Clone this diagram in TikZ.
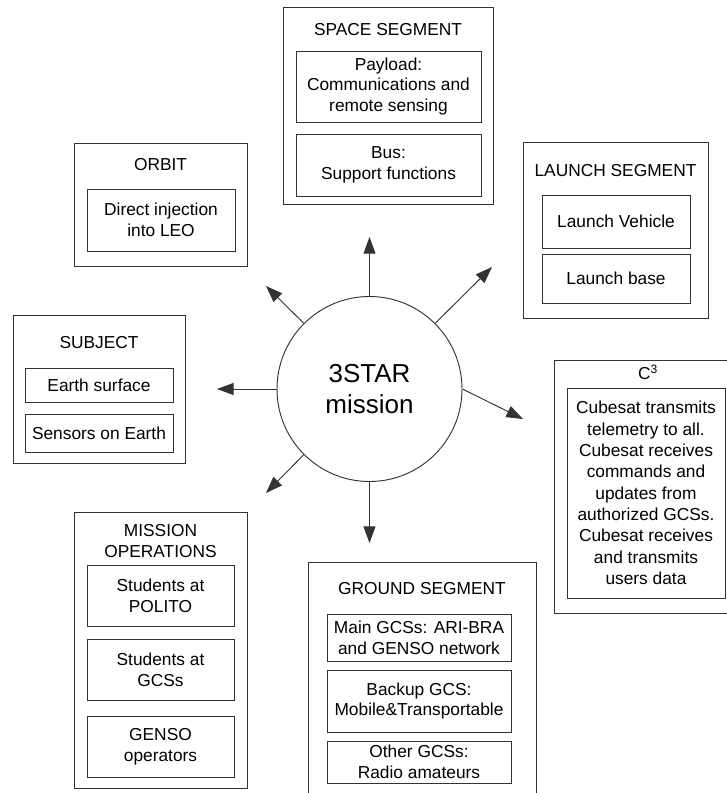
\documentclass[tikz,border=0pt]{standalone}
\usepackage{fontspec}
\setmainfont{Liberation Sans}
\usetikzlibrary{fit,arrows.meta}
\definecolor{linec}{gray}{0.2}
\begin{document}
\begin{tikzpicture}[x=0.75pt,y=-0.75pt,
  outerbox/.style={draw=linec, line width=0.7pt, inner sep=0pt},
  innerbox/.style={draw=linec, line width=0.7pt, inner sep=0pt, align=center,
    font=\fontsize{13}{15.5}\selectfont},
  ttl/.style={inner sep=0pt, align=center, font=\fontsize{13}{15.5}\selectfont},
  arr/.style={draw=linec, line width=0.7pt, -{Triangle[length=12.5pt,width=9pt]}},
]
\useasboundingbox (0,0) rectangle (727,793);
\fill[white] (0,0) rectangle (727,793);

% centre
\node[circle, draw=linec, line width=0.7pt, minimum size=138.75pt, inner sep=0pt,
  align=center, font=\fontsize{19.5}{23.25}\selectfont] (mission) at (369.5,389) {3STAR\\mission};

% space segment
\node[outerbox, fit={(283,7)(493,204)}] (space) {};
\node[ttl] (spaceT) at (388,30) {SPACE SEGMENT};
\node[innerbox, minimum width=138.75pt, minimum height=53.25pt] (payload) at (388.5,86.5) {Payload:\\Communications and\\remote sensing};
\node[innerbox, minimum width=138.75pt, minimum height=46.5pt] (bus) at (388.5,165) {Bus:\\Support functions};

% orbit
\node[outerbox, fit={(74,143)(247,266)}] (orbit) {};
\node[ttl] (orbitT) at (160.5,165) {ORBIT};
\node[innerbox, minimum width=111pt, minimum height=46.5pt] (inject) at (161,220) {Direct injection\\into LEO};

% launch segment
\node[outerbox, fit={(523,142)(708,318)}] (launch) {};
\node[ttl] (launchT) at (615.5,171) {LAUNCH SEGMENT};
\node[innerbox, minimum width=111pt, minimum height=39.75pt] (vehicle) at (616,221.5) {Launch Vehicle};
\node[innerbox, minimum width=111pt, minimum height=36.75pt] (base) at (616,278.5) {Launch base};

% subject
\node[outerbox, fit={(13,315)(185,463)}] (subject) {};
\node[ttl] (subjectT) at (99,343) {SUBJECT};
\node[innerbox, minimum width=111pt, minimum height=25.5pt] (surface) at (99,385) {Earth surface};
\node[innerbox, minimum width=111pt, minimum height=28.5pt] (sensors) at (99,433) {Sensors on Earth};

% C3
\node[outerbox, fit={(554,360)(745,613)}] (cthree) {};
\node[ttl] (cthreeT) at (648,372) {C\textsuperscript{3}};
\node[innerbox, minimum width=118.5pt, minimum height=157.5pt, font=\fontsize{13}{16}\selectfont] (ctext) at (646,493)
  {Cubesat transmits\\telemetry to all.\\Cubesat receives\\commands and\\updates from\\authorized GCSs.\\Cubesat receives\\and transmits\\users data};

% mission operations
\node[outerbox, fit={(74,512)(247,788)}] (ops) {};
\node[ttl] (opsT) at (160.5,541) {MISSION\\OPERATIONS};
\node[innerbox, minimum width=110.25pt, minimum height=45.75pt] (polito) at (160.5,595.5) {Students at\\POLITO};
\node[innerbox, minimum width=110.25pt, minimum height=45.75pt] (gcsstud) at (160.5,669.5) {Students at\\GCSs};
\node[innerbox, minimum width=110.25pt, minimum height=45.75pt] (genso) at (160.5,746.5) {GENSO\\operators};

% ground segment
\node[outerbox, fit={(308,562)(536,810)}] (ground) {};
\node[ttl] (groundT) at (422,589) {GROUND SEGMENT};
\node[innerbox, minimum width=138pt, minimum height=35.25pt] (maingcs) at (419,637.5) {Main GCSs: ARI-BRA\\and GENSO network};
\node[innerbox, minimum width=138pt, minimum height=46.5pt] (backup) at (419,701) {Backup GCS:\\Mobile\&Transportable};
\node[innerbox, minimum width=138pt, minimum height=31.5pt] (other) at (419,762) {Other GCSs:\\Radio amateurs};

% arrow tips
\coordinate (tU) at (369.5,237);
\coordinate (tUL) at (266,286);
\coordinate (tUR) at (492,267);
\coordinate (tL) at (217,389);
\coordinate (tR) at (523,419);
\coordinate (tDL) at (266,493);
\coordinate (tD) at (369.5,543);

\draw[arr] (mission.90) -- (tU);
\draw[arr] (mission.135) -- (tUL);
\draw[arr] (mission.45) -- (tUR);
\draw[arr] (mission.180) -- (tL);
\draw[arr] (mission.east) -- (tR);
\draw[arr] (mission.225) -- (tDL);
\draw[arr] (mission.270) -- (tD);
\end{tikzpicture}
\end{document}
